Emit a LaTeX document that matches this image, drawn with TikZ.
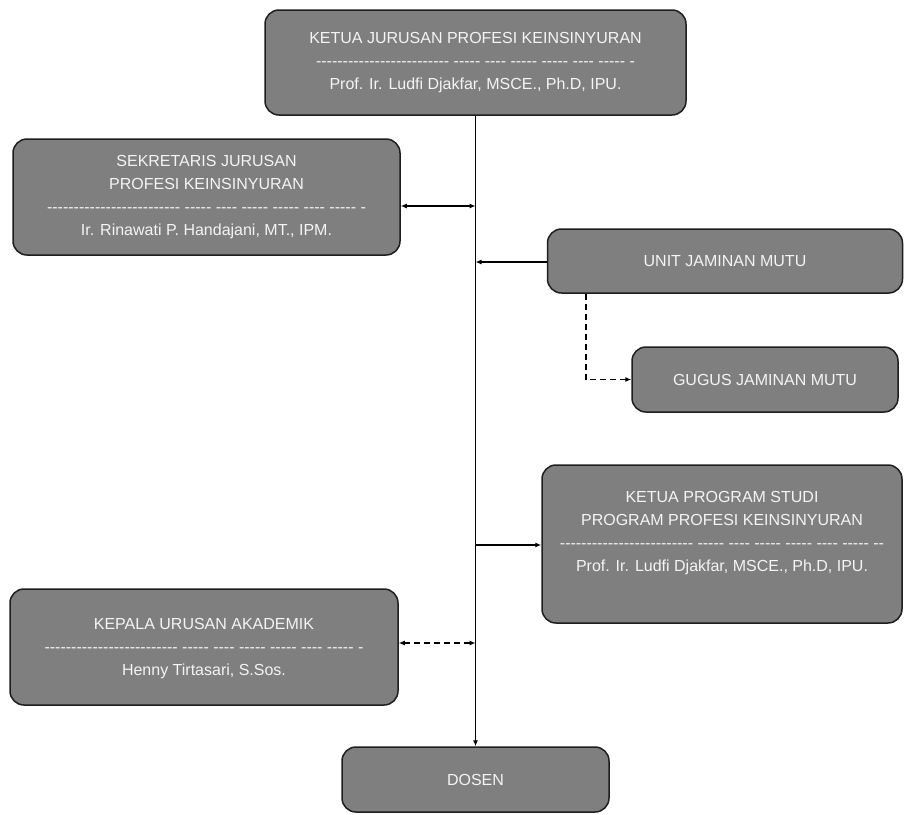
\documentclass[tikz,border=0pt]{standalone}
\usepackage{fontspec}
\newfontfamily\orgfont{Liberation Sans}
\usetikzlibrary{arrows.meta}
\definecolor{boxfill}{HTML}{7F7F7F}
\definecolor{boxline}{HTML}{1E1E1E}
\definecolor{boxtext}{HTML}{F4F4F4}
\begin{document}
\begin{tikzpicture}[x=1pt,y=-1pt,
  orgbox/.style={draw=boxline, line width=1.5pt, fill=boxfill, rounded corners=14pt,
    inner sep=0pt, align=center, text=boxtext,
    font=\orgfont\fontsize{16}{23}\selectfont},
  boxtxt/.style={inner sep=0pt, align=center, text=boxtext, font=\orgfont\fontsize{16}{23}\selectfont},
  conn/.style={line width=1.1pt, draw=black},
  tip/.style={-{Latex[length=6pt,width=5pt]}},
  bitip/.style={{Latex[length=6pt,width=5pt]}-{Latex[length=6pt,width=5pt]}},
  dsh/.style={dash pattern=on 6pt off 4pt}]
\useasboundingbox (0,0) rectangle (904,814);
\fill[white] (0,0) rectangle (904,814);

\node[orgbox, minimum width=421pt, minimum height=105pt] (top) at (475.5,62.5)
  {KETUA JURUSAN PROFESI KEINSINYURAN\\
   ------------------------- ----- ---- ----- ----- ---- ----- -\\
   Prof. Ir. Ludfi Djakfar, MSCE., Ph.D, IPU.};

\node[orgbox, minimum width=387pt, minimum height=116pt] (sek) at (206.5,197)
  {SEKRETARIS JURUSAN\\
   PROFESI KEINSINYURAN\\
   ------------------------- ----- ---- ----- ----- ---- ----- -\\
   Ir. Rinawati P. Handajani, MT., IPM.};

\node[orgbox, minimum width=355pt, minimum height=64pt] (unit) at (725,261)
  {UNIT JAMINAN MUTU};

\node[orgbox, minimum width=266pt, minimum height=65pt] (gugus) at (765,379.5)
  {GUGUS JAMINAN MUTU};

\node[orgbox, minimum width=360pt, minimum height=158pt] (kps) at (722,544) {};
\node[boxtxt] (kpst) at (722,533)
  {KETUA PROGRAM STUDI\\
   PROGRAM PROFESI KEINSINYURAN\\
   ------------------------- ----- ---- ----- ----- ---- ----- --\\
   Prof. Ir. Ludfi Djakfar, MSCE., Ph.D, IPU.};

\node[orgbox, minimum width=388pt, minimum height=116pt] (kua) at (204,647) {};
\node[boxtxt] (kuat) at (204,649)
  {KEPALA URUSAN AKADEMIK\\
   ------------------------- ----- ---- ----- ----- ---- ----- -\\
   Henny Tirtasari, S.Sos.};

\node[orgbox, minimum width=267pt, minimum height=65pt] (dosen) at (475.5,779.5)
  {DOSEN};

% spine
\draw[conn, tip] (top.south) -- (dosen.north);

\coordinate (s1) at (475.5,206);
\draw[conn, bitip] (sek.east |- s1) -- (s1);

\coordinate (u1) at (475.5,262);
\draw[conn, tip] (unit.west |- u1) -- (u1);

\coordinate (gx) at (586,0);
\draw[conn, dsh, tip] (unit.south -| gx) |- (gugus.west);

\coordinate (k1) at (475.5,545);
\draw[conn, tip] (k1) -- (kps.west |- k1);

\coordinate (a1) at (475.5,643);
\draw[conn, dsh, bitip] (kua.east |- a1) -- (a1);
\end{tikzpicture}
\end{document}
